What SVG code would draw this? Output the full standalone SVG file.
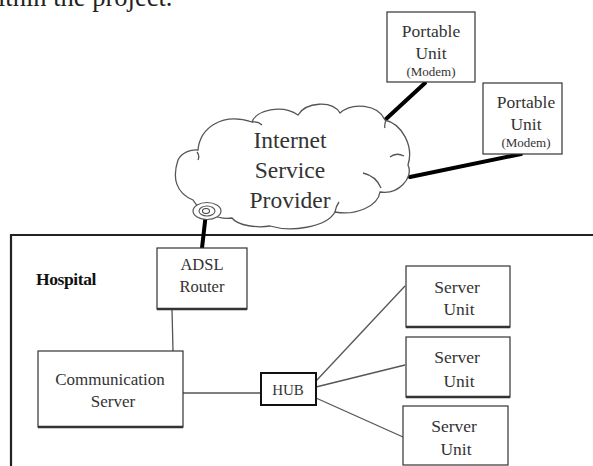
<svg xmlns="http://www.w3.org/2000/svg" width="593" height="466" viewBox="0 0 593 466">
<style>
text{font-family:"Liberation Serif","Times New Roman",serif}
.box{fill:#fff;stroke:#333;stroke-width:1.2}
.sh{stroke:#333;stroke-width:2.5;fill:none}
.t{fill:#333;text-anchor:middle}
.thick{stroke:#000;stroke-width:4;fill:none;stroke-linecap:round}
.thin{stroke:#555;stroke-width:1.3;fill:none}
.cloud{fill:#fff;stroke:#555;stroke-width:1.3}
</style>
<rect width="593" height="466" fill="#fff"/>
<text x="-2" y="6" font-size="26.5" fill="#222">ithin the project.</text>

<g id="hospital">
<path d="M11,466 V235 H593" fill="none" stroke="#222" stroke-width="2.2"/>
<text x="36" y="285" font-size="17.5" font-weight="bold" fill="#111" letter-spacing="-0.4">Hospital</text>
</g>

<g id="connectors">
<line class="thick" x1="425" y1="83" x2="386" y2="119"/>
<line class="thick" x1="521" y1="154" x2="410" y2="177"/>
<line class="thick" x1="206" y1="213" x2="202" y2="248" stroke-width="3.5"/>
<line class="thin" x1="172" y1="309" x2="173" y2="351" stroke="#333"/>
<path class="thin" d="M183,393 H260" stroke="#333"/>
<line class="thin" x1="316" y1="381" x2="405" y2="286"/>
<line class="thin" x1="316" y1="387" x2="405" y2="365"/>
<line class="thin" x1="316" y1="398" x2="403" y2="437"/>
</g>

<g id="isp">
<path class="cloud" d="M193,200 C176,193 172,178 178,160 C182,152 192,149 198,150 C200,128 222,112 252,122 C256,110 282,104 298,115 C306,102 332,100 340,113 C352,102 378,104 385,120 C402,124 414,146 408,165 C414,178 398,195 380,192 C378,206 356,216 335,212 C326,228 290,232 270,226 C258,228 238,226 232,218 C218,220 200,212 193,200 Z"/>
<path class="thin" d="M252,122 Q258,121 262,125 M386,120 Q384,126 385,128 M390,157 Q396,152 404,156 M363,173 Q376,176 381,188 M335,212 Q336,206 339,202 M197,152 Q200,156 198,160"/>
<ellipse cx="207" cy="211" rx="14" ry="8.5" fill="#fff" stroke="#555" stroke-width="1.2"/>
<ellipse cx="207" cy="211" rx="8" ry="5" fill="none" stroke="#555" stroke-width="1.1"/>
<ellipse cx="206" cy="211" rx="3.5" ry="2.5" fill="none" stroke="#444" stroke-width="1.1"/>
<text class="t" x="290" y="148" font-size="23.5" fill="#222">Internet</text>
<text class="t" x="290" y="178" font-size="23.5" fill="#222">Service</text>
<text class="t" x="290" y="208" font-size="23.5" fill="#222">Provider</text>
</g>

<g id="portable1">
<rect class="box" x="387" y="12" width="88" height="70"/>
<text class="t" x="431" y="37" font-size="17.5">Portable</text>
<text class="t" x="431" y="59" font-size="17.5">Unit</text>
<text class="t" x="431" y="76" font-size="13">(Modem)</text>
</g>

<g id="portable2">
<rect class="box" x="483" y="83" width="79" height="71"/>
<text class="t" x="526" y="108" font-size="17.5">Portable</text>
<text class="t" x="526" y="130" font-size="17.5">Unit</text>
<text class="t" x="526" y="147" font-size="13">(Modem)</text>
</g>

<g id="adsl">
<rect class="box" x="157" y="248" width="90" height="61"/>
<line class="sh" x1="157" y1="309" x2="247" y2="309"/>
<text class="t" x="202" y="270" font-size="16.5">ADSL</text>
<text class="t" x="202" y="292" font-size="16.5">Router</text>
</g>

<g id="comm">
<rect class="box" x="38" y="351" width="145" height="76"/>
<line class="sh" x1="38" y1="427" x2="183" y2="427"/>
<text class="t" x="110" y="385" font-size="17">Communication</text>
<text class="t" x="113" y="407" font-size="17">Server</text>
</g>

<g id="hub">
<rect x="261" y="373" width="55" height="32" fill="#fff" stroke="#111" stroke-width="2"/>
<text class="t" x="288" y="395" font-size="15" fill="#111">HUB</text>
</g>

<g id="server1">
<rect class="box" x="406" y="266" width="104" height="61"/>
<line class="sh" x1="406" y1="327" x2="510" y2="327"/>
<text class="t" x="457" y="293" font-size="17.5">Server</text>
<text class="t" x="459" y="315" font-size="17.5">Unit</text>
</g>

<g id="server2">
<rect class="box" x="406" y="337" width="104" height="60"/>
<line class="sh" x1="406" y1="397" x2="510" y2="397"/>
<text class="t" x="457" y="363" font-size="17.5">Server</text>
<text class="t" x="459" y="387" font-size="17.5">Unit</text>
</g>

<g id="server3">
<rect class="box" x="403" y="406" width="105" height="59"/>
<text class="t" x="454" y="432" font-size="17.5">Server</text>
<text class="t" x="456" y="455" font-size="17.5">Unit</text>
</g>
</svg>
